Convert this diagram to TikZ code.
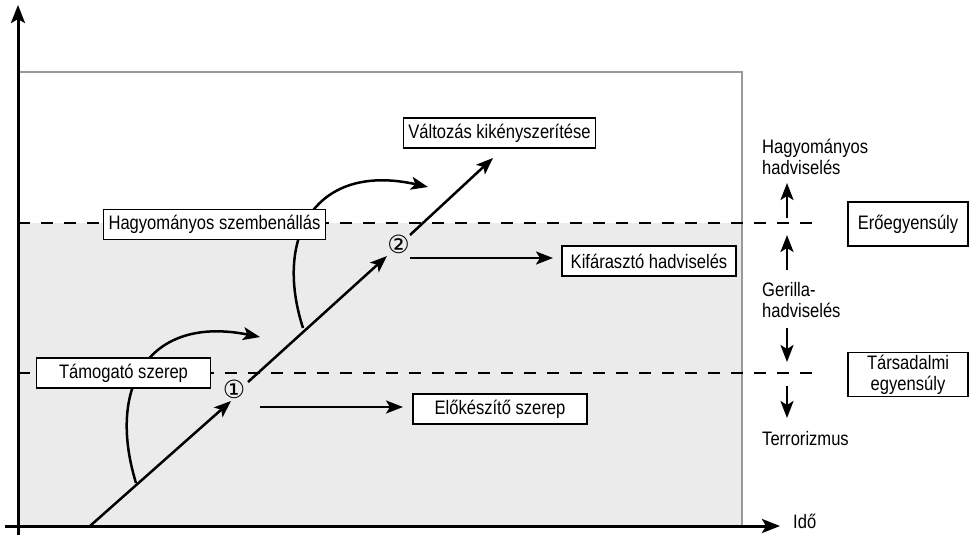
\documentclass[tikz,border=0pt]{standalone}
\usepackage{fontspec}
\setmainfont{Liberation Sans}[FakeStretch=0.85]
\newfontfamily\dejavu{DejaVu Sans}
\usetikzlibrary{arrows.meta}
\definecolor{bgshade}{HTML}{EBEBEB}
\definecolor{framegray}{HTML}{999999}
\begin{document}
\begin{tikzpicture}[x=1pt,y=-1pt,
  box/.style={draw, line width=1.4pt, fill=white, inner xsep=5pt, inner ysep=0pt,
    minimum width=174pt, minimum height=30pt, font=\fontsize{19.5}{21}\selectfont},
  sidebox/.style={draw, line width=1.4pt, fill=white, minimum width=120pt,
    minimum height=44pt, inner sep=0pt, align=center, font=\fontsize{19.5}{21}\selectfont},
  lbl/.style={font=\fontsize{19.5}{21}\selectfont, align=left, inner sep=0pt},
  circ/.style={font=\dejavu\fontsize{25}{25}\selectfont, inner sep=0pt},
  arr/.style={line width=2.5pt, -{Stealth[length=17pt,width=13pt,inset=4pt]}},
  axisline/.style={line width=3pt, -{Stealth[length=18pt,width=14pt,inset=4pt]}},
  level/.style={line width=2.8pt, dash pattern=on 12pt off 11pt},
]
\useasboundingbox (0,0) rectangle (969,536);
% background region
\fill[bgshade] (18,223) rectangle (742,526);
\draw[framegray, line width=2.8pt] (18,72) -- (742,72) -- (742,526);
% level lines
\coordinate (l1a) at (18,223); \coordinate (l1b) at (822,223);
\coordinate (l2a) at (18,373); \coordinate (l2b) at (822,373);
\draw[level] (l1a) -- (l1b);
\draw[level] (l2a) -- (l2b);
% curved arrows
\coordinate (k1a) at (136,483); \coordinate (k1b) at (260,337);
\coordinate (k2a) at (303,328); \coordinate (k2b) at (428,187);
\draw[arr] (k1a) .. controls (106,385) and (150,315) .. (k1b);
\draw[arr] (k2a) .. controls (273,235) and (317,162) .. (k2b);
% boxes
\node[box] (valt) at (499.5,133) {Változás kikényszerítése};
\node[box] (hsz) at (214.5,224.5) {Hagyományos szembenállás};
\node[box] (kif) at (649,261) {Kifárasztó hadviselés};
\node[box] (tam) at (123.5,373) {Támogató szerep};
\node[box] (elo) at (500,409) {Előkészítő szerep};
\node[sidebox] (ero) at (908,224) {Erőegyensúly};
\node[sidebox] (tars) at (908,374.5) {Társadalmi\\egyensúly};
% circled markers
\node[circ] (c1) at (234,389) {①};
\node[circ] (c2) at (398.5,244.5) {②};
% main diagonal
\coordinate (d0) at (90,526); \coordinate (d1) at (231,401);
\coordinate (d2) at (248,382); \coordinate (d3) at (387,256);
\coordinate (d4) at (410,235); \coordinate (d5) at (493,158);
\draw[arr] (d0) -- (d1);
\draw[arr] (d2) -- (d3);
\draw[arr] (d4) -- (d5);
% horizontal arrows
\coordinate (h1s) at (260,407); \coordinate (h1e) at (403,407);
\coordinate (h2s) at (410,258); \coordinate (h2e) at (553,258);
\draw[arr] (h1s) -- (h1e);
\draw[arr] (h2s) -- (h2e);
% side labels
\node[lbl, anchor=north west] (hh) at (762,139) {Hagyományos\\hadviselés};
\node[lbl, anchor=north west] (gh) at (762,282) {Gerilla-\\hadviselés};
\node[lbl, anchor=base west] (ter) at (762,445) {Terrorizmus};
% vertical arrows
\coordinate (v1a) at (787,218); \coordinate (v1b) at (787,183);
\coordinate (v2a) at (787,270); \coordinate (v2b) at (787,235);
\coordinate (v3a) at (787,328); \coordinate (v3b) at (787,362);
\coordinate (v4a) at (787,386); \coordinate (v4b) at (787,418);
\draw[arr] (v1a) -- (v1b);
\draw[arr] (v2a) -- (v2b);
\draw[arr] (v3a) -- (v3b);
\draw[arr] (v4a) -- (v4b);
% axes
\coordinate (xa) at (5,526); \coordinate (xb) at (780,526);
\coordinate (ya) at (18,535); \coordinate (yb) at (18,5);
\draw[axisline] (xa) -- (xb);
\draw[axisline] (ya) -- (yb);
\node[lbl, anchor=base west] (ido) at (793,528) {Idő};
\end{tikzpicture}
\end{document}
